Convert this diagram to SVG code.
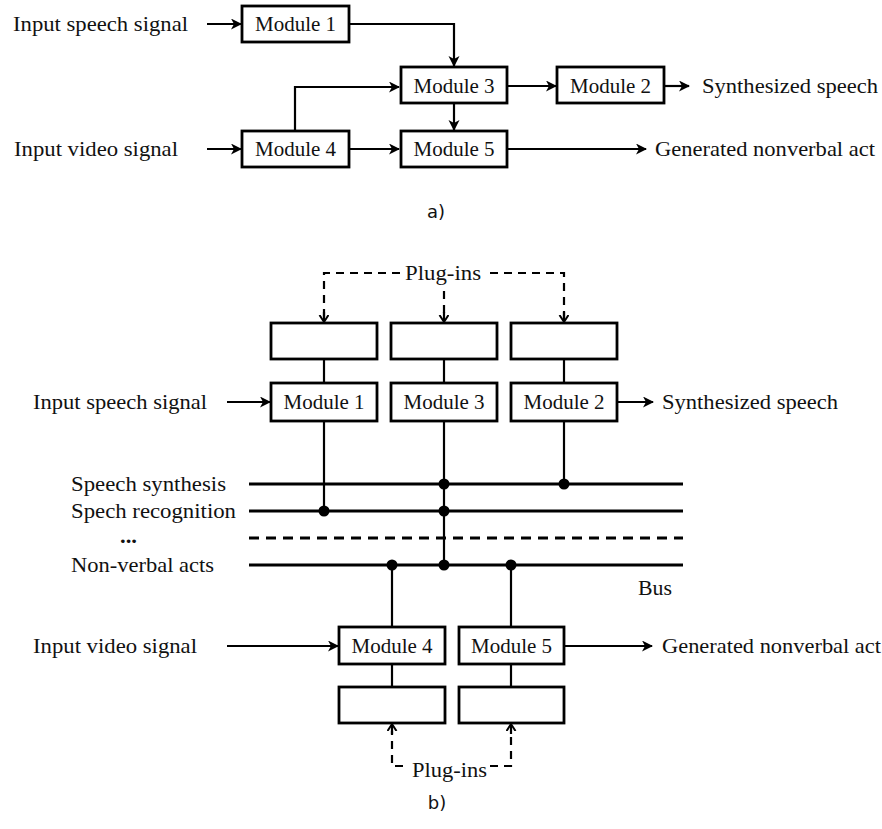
<svg xmlns="http://www.w3.org/2000/svg" width="882" height="829" viewBox="0 0 882 829">
<defs>
<marker id="ah" markerWidth="13" markerHeight="13" refX="10" refY="5.5" orient="auto" markerUnits="userSpaceOnUse">
<path d="M0,0 L11,5.5 L0,11 L3,5.5 z" fill="#000"/>
</marker>
<marker id="ahd" markerWidth="12" markerHeight="12" refX="6" refY="5" orient="auto" markerUnits="userSpaceOnUse">
<path d="M0,0.5 L7,5 L0,9.5" fill="none" stroke="#000" stroke-width="2"/>
</marker>
</defs>
<style>
text{font-family:"Liberation Serif","Times New Roman",serif;font-size:21px;fill:#111}
.lbl{font-family:"DejaVu Sans","Verdana",sans-serif;font-size:18px}
.box{fill:#fff;stroke:#000;stroke-width:2.8}
.c{fill:none;stroke:#000;stroke-width:2.2}
.bus{fill:none;stroke:#000;stroke-width:2.8}
.d{fill:none;stroke:#000;stroke-width:2.2;stroke-dasharray:8,6}
.dot{fill:#000}
.mid{text-anchor:middle}
</style>
<rect width="882" height="829" fill="#fff"/>

<!-- Part a -->
<g id="a-connectors">
<line class="c" x1="207" y1="24" x2="241" y2="24" marker-end="url(#ah)"/>
<polyline class="c" points="349,24 454,24 454,66" marker-end="url(#ah)"/>
<polyline class="c" points="295,131 295,87 399,87" marker-end="url(#ah)"/>
<line class="c" x1="507" y1="86" x2="556" y2="86" marker-end="url(#ah)"/>
<line class="c" x1="664" y1="86" x2="689" y2="86" marker-end="url(#ah)"/>
<line class="c" x1="454" y1="103" x2="454" y2="130" marker-end="url(#ah)"/>
<line class="c" x1="207" y1="149" x2="241" y2="149" marker-end="url(#ah)"/>
<line class="c" x1="349" y1="149" x2="399" y2="149" marker-end="url(#ah)"/>
<line class="c" x1="507" y1="149" x2="646" y2="149" marker-end="url(#ah)"/>
</g>
<g id="a-labels">
<text x="13" y="31" textLength="175" lengthAdjust="spacingAndGlyphs">Input speech signal</text>
<text x="14" y="156" textLength="164" lengthAdjust="spacingAndGlyphs">Input video signal</text>
<text x="702" y="93" textLength="176" lengthAdjust="spacingAndGlyphs">Synthesized speech</text>
<text x="655" y="156" textLength="220" lengthAdjust="spacingAndGlyphs">Generated nonverbal act</text>
<text class="lbl mid" x="436" y="218">a)</text>
</g>
<g id="a-m1"><rect class="box" x="242" y="6" width="107" height="36"/><text class="mid" x="295.5" y="31">Module 1</text></g>
<g id="a-m3"><rect class="box" x="401" y="67" width="106" height="36"/><text class="mid" x="454" y="93">Module 3</text></g>
<g id="a-m2"><rect class="box" x="557" y="67" width="107" height="36"/><text class="mid" x="610.5" y="93">Module 2</text></g>
<g id="a-m4"><rect class="box" x="242" y="131" width="107" height="36"/><text class="mid" x="295.5" y="156">Module 4</text></g>
<g id="a-m5"><rect class="box" x="401" y="131" width="106" height="36"/><text class="mid" x="454" y="156">Module 5</text></g>

<!-- Part b -->
<g id="b-connectors">
<polyline class="d" points="400,273 324,273 324,318"/>
<polyline class="d" points="490,273 564,273 564,318"/>
<line class="d" x1="444" y1="291" x2="444" y2="318"/>
<line class="c" x1="324" y1="312" x2="324" y2="321" marker-end="url(#ahd)"/>
<line class="c" x1="444" y1="312" x2="444" y2="321" marker-end="url(#ahd)"/>
<line class="c" x1="564" y1="312" x2="564" y2="321" marker-end="url(#ahd)"/>
<line class="c" x1="324" y1="359" x2="324" y2="383"/>
<line class="c" x1="444" y1="359" x2="444" y2="383"/>
<line class="c" x1="564" y1="359" x2="564" y2="383"/>
<line class="c" x1="227" y1="402" x2="270" y2="402" marker-end="url(#ah)"/>
<line class="c" x1="617" y1="402" x2="653" y2="402" marker-end="url(#ah)"/>
<line class="c" x1="227" y1="646" x2="338" y2="646" marker-end="url(#ah)"/>
<line class="c" x1="564" y1="646" x2="652" y2="646" marker-end="url(#ah)"/>
<line class="bus" x1="249" y1="484" x2="683" y2="484"/>
<line class="bus" x1="249" y1="511" x2="683" y2="511"/>
<line class="bus" x1="249" y1="538" x2="683" y2="538" stroke-dasharray="10,7"/>
<line class="bus" x1="249" y1="565" x2="683" y2="565"/>
<line class="c" x1="324" y1="421" x2="324" y2="511"/>
<line class="c" x1="444" y1="421" x2="444" y2="565"/>
<line class="c" x1="564" y1="421" x2="564" y2="484"/>
<line class="c" x1="392" y1="565" x2="392" y2="627"/>
<line class="c" x1="511" y1="565" x2="511" y2="627"/>
<line class="c" x1="392" y1="664" x2="392" y2="687"/>
<line class="c" x1="511" y1="664" x2="511" y2="687"/>
<circle class="dot" cx="324" cy="511" r="5.5"/>
<circle class="dot" cx="444" cy="484" r="5.5"/>
<circle class="dot" cx="444" cy="511" r="5.5"/>
<circle class="dot" cx="444" cy="565" r="5.5"/>
<circle class="dot" cx="564" cy="484" r="5.5"/>
<circle class="dot" cx="392" cy="565" r="5.5"/>
<circle class="dot" cx="511" cy="565" r="5.5"/>
<polyline class="d" points="403,766 392,766 392,731"/>
<polyline class="d" points="490,766 511,766 511,731"/>
<line class="c" x1="392" y1="734" x2="392" y2="725" marker-end="url(#ahd)"/>
<line class="c" x1="511" y1="734" x2="511" y2="725" marker-end="url(#ahd)"/>
</g>
<g id="b-labels">
<text x="405" y="280" textLength="76" lengthAdjust="spacingAndGlyphs">Plug-ins</text>
<text x="33" y="409" textLength="174" lengthAdjust="spacingAndGlyphs">Input speech signal</text>
<text x="662" y="409" textLength="176" lengthAdjust="spacingAndGlyphs">Synthesized speech</text>
<text x="71" y="491" textLength="155" lengthAdjust="spacingAndGlyphs">Speech synthesis</text>
<text x="71" y="518" textLength="165" lengthAdjust="spacingAndGlyphs">Spech recognition</text>
<text x="120" y="543" font-weight="bold" textLength="17" lengthAdjust="spacingAndGlyphs">...</text>
<text x="71" y="572" textLength="143" lengthAdjust="spacingAndGlyphs">Non-verbal acts</text>
<text x="638" y="595" textLength="34" lengthAdjust="spacingAndGlyphs">Bus</text>
<text x="33" y="653" textLength="164" lengthAdjust="spacingAndGlyphs">Input video signal</text>
<text x="662" y="653" textLength="219" lengthAdjust="spacingAndGlyphs">Generated nonverbal act</text>
<text x="412" y="777" textLength="75" lengthAdjust="spacingAndGlyphs">Plug-ins</text>
<text class="lbl mid" x="437" y="809">b)</text>
</g>
<g id="b-p1"><rect class="box" x="271" y="323" width="106" height="36"/></g>
<g id="b-p3"><rect class="box" x="391" y="323" width="106" height="36"/></g>
<g id="b-p2"><rect class="box" x="511" y="323" width="106" height="36"/></g>
<g id="b-m1"><rect class="box" x="271" y="383" width="106" height="38"/><text class="mid" x="324" y="409">Module 1</text></g>
<g id="b-m3"><rect class="box" x="391" y="383" width="106" height="38"/><text class="mid" x="444" y="409">Module 3</text></g>
<g id="b-m2"><rect class="box" x="511" y="383" width="106" height="38"/><text class="mid" x="564" y="409">Module 2</text></g>
<g id="b-m4"><rect class="box" x="339" y="627" width="106" height="37"/><text class="mid" x="392" y="653">Module 4</text></g>
<g id="b-m5"><rect class="box" x="459" y="627" width="105" height="37"/><text class="mid" x="511.5" y="653">Module 5</text></g>
<g id="b-p4"><rect class="box" x="339" y="687" width="106" height="36"/></g>
<g id="b-p5"><rect class="box" x="459" y="687" width="105" height="36"/></g>
</svg>
